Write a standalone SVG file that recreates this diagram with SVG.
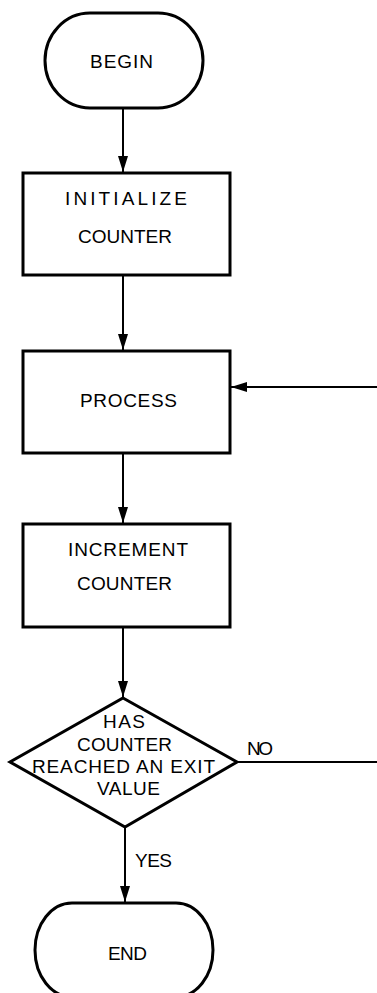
<svg xmlns="http://www.w3.org/2000/svg" width="377" height="993" viewBox="0 0 377 993">
<style>
.shape{fill:#fff;stroke:#000;stroke-width:3;stroke-linejoin:miter}
.conn{fill:none;stroke:#000;stroke-width:2}
.t{font-family:"Liberation Sans",Arial,sans-serif;font-size:19px;fill:#000}
</style>
<defs>
<marker id="arr" markerUnits="userSpaceOnUse" markerWidth="18" markerHeight="11" refX="16" refY="5" orient="auto">
<path d="M0,0 L16,5 L0,10 Z" fill="#000"/>
</marker>
</defs>
<rect width="377" height="993" fill="#fff"/>
<g id="connectors">
<line class="conn" x1="123" y1="108" x2="123" y2="172" marker-end="url(#arr)"/>
<line class="conn" x1="123" y1="275" x2="123" y2="350" marker-end="url(#arr)"/>
<line class="conn" x1="123" y1="453" x2="123" y2="523" marker-end="url(#arr)"/>
<line class="conn" x1="123" y1="627" x2="123" y2="697" marker-end="url(#arr)"/>
<line class="conn" x1="125" y1="827" x2="125" y2="902" marker-end="url(#arr)"/>
<line class="conn" x1="237" y1="762" x2="377" y2="762"/>
<line class="conn" x1="377" y1="387" x2="231" y2="387" marker-end="url(#arr)"/>
<text class="t" x="247" y="755" textLength="26" lengthAdjust="spacing">NO</text>
<text class="t" x="135" y="867" textLength="37" lengthAdjust="spacing">YES</text>
</g>
<g id="begin">
<path class="shape" d="M90 13 H158 A45 47.5 0 0 1 158 108 H90 A45 47.5 0 0 1 90 13 Z"/>
<text class="t" x="90" y="68" textLength="63" lengthAdjust="spacing">BEGIN</text>
</g>
<g id="initialize">
<rect class="shape" x="23" y="173" width="207" height="102"/>
<text class="t" x="65" y="205" textLength="122" lengthAdjust="spacing">INITIALIZE</text>
<text class="t" x="78" y="243" textLength="94" lengthAdjust="spacing">COUNTER</text>
</g>
<g id="process">
<rect class="shape" x="23" y="351" width="207" height="102"/>
<text class="t" x="80" y="407" textLength="97" lengthAdjust="spacing">PROCESS</text>
</g>
<g id="increment">
<rect class="shape" x="23" y="524" width="207" height="103"/>
<text class="t" x="68" y="556" textLength="120" lengthAdjust="spacing">INCREMENT</text>
<text class="t" x="77" y="590" textLength="95" lengthAdjust="spacing">COUNTER</text>
</g>
<g id="decision">
<polygon class="shape" points="123,698 237,762 125,827 10,762"/>
<text class="t" x="103" y="728" textLength="42" lengthAdjust="spacing">HAS</text>
<text class="t" x="77" y="751" textLength="95" lengthAdjust="spacing">COUNTER</text>
<text class="t" x="32" y="773" textLength="183" lengthAdjust="spacing">REACHED AN EXIT</text>
<text class="t" x="97" y="795" textLength="63" lengthAdjust="spacing">VALUE</text>
</g>
<g id="end">
<path class="shape" d="M72 903 H176 A37 47 0 0 1 176 997 H72 A37 47 0 0 1 72 903 Z"/>
<text class="t" x="108" y="960" textLength="39" lengthAdjust="spacing">END</text>
</g>
</svg>
